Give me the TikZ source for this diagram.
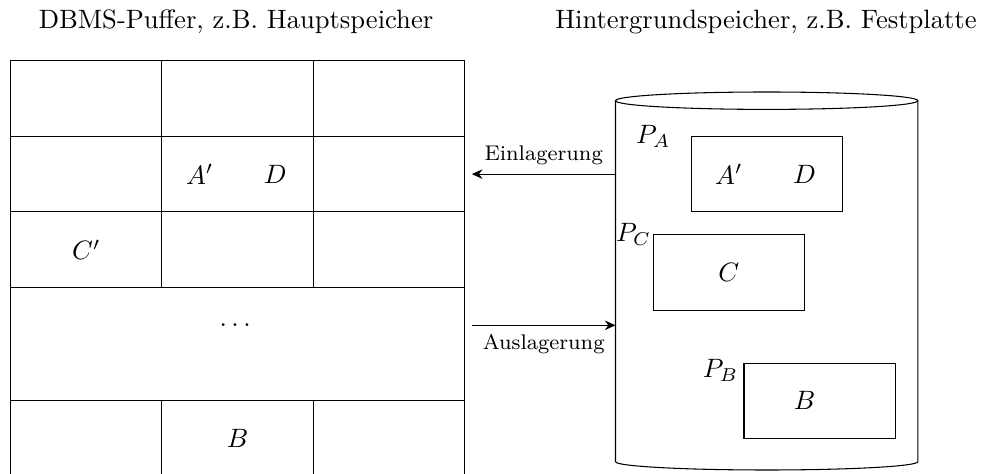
\documentclass[tikz,border=0pt]{standalone}
\usetikzlibrary{arrows.meta}
\begin{document}
\begin{tikzpicture}[
  line/.style={draw=black, line width=0.4pt},
  flow/.style={draw=black, line width=0.4pt, -{Stealth[length=4pt,width=3.6pt]}},
  lbl/.style={font=\footnotesize},
  title/.style={anchor=base}
]
\useasboundingbox (-0.1415,0.803) rectangle (12.848,-5.454);

% titles
\node[title] (t1) at (2.98,0.4325) {DBMS-Puffer, z.B. Hauptspeicher};
\node[title] (t2) at (9.99,0.4325) {Hintergrundspeicher, z.B. Festplatte};

% buffer grid
\draw[line] (0,0) rectangle (6,-5.5);
\draw[line] (0,-1) -- (6,-1);
\draw[line] (0,-2) -- (6,-2);
\draw[line] (0,-3) -- (6,-3);
\draw[line] (0,-4.5) -- (6,-4.5);
\draw[line] (2,0) -- (2,-3);
\draw[line] (4,0) -- (4,-3);
\draw[line] (2,-4.5) -- (2,-5.5);
\draw[line] (4,-4.5) -- (4,-5.5);

\node (ga) at (2.5,-1.5) {$A'$};
\node (gd) at (3.5,-1.5) {$D$};
\node (gc) at (1,-2.5) {$C'$};
\node (gdots) at (2.97,-3.5) {$\dots$};
\node (gb) at (3,-5) {$B$};

% disk cylinder
\draw[line] (10,-0.529) ellipse [x radius=2cm, y radius=0.115cm];
\draw[line] (8,-0.529) -- (8,-5.304)
  arc [start angle=180, end angle=360, x radius=2cm, y radius=0.11cm]
  -- (12,-0.529);
\coordinate (diskin) at (8,-1.5);
\coordinate (diskout) at (8,-3.5);
\coordinate (bufin) at (6.1,-1.5);
\coordinate (bufout) at (6.1,-3.5);

% pages
\draw[line] (9,-1) rectangle (11,-2);
\draw[line] (8.5,-2.3) rectangle (10.5,-3.3);
\draw[line] (9.7,-4) rectangle (11.7,-5);
\node (pa) at (8.5,-1) {$P_A$};
\node (pc) at (8.24,-2.3) {$P_C$};
\node (pb) at (9.39,-4.1) {$P_B$};
\node (da) at (9.5,-1.5) {$A'$};
\node (dd) at (10.5,-1.5) {$D$};
\node (dc) at (9.5,-2.8) {$C$};
\node (db) at (10.5,-4.5) {$B$};

% arrows
\draw[flow] (diskin) -- node[lbl, above] {Einlagerung} (bufin);
\draw[flow] (bufout) -- node[lbl, below] {Auslagerung} (diskout);
\end{tikzpicture}
\end{document}
